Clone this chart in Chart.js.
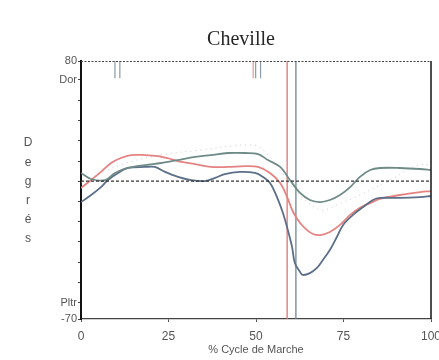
<!DOCTYPE html>
<html>
<head>
<meta charset="utf-8">
<script src="https://cdn.jsdelivr.net/npm/chart.js@4"></script>
<style>
  html, body { margin: 0; padding: 0; background: #fff; }
  canvas { display: block; }
</style>
</head>
<body>
<canvas id="c" width="439" height="360"></canvas>
<script>
// ---- data ----
const chartTitle = 'Cheville';
const xAxisTitle = '% Cycle de Marche';
const yAxisTitle = 'Degrés';

const xTickValues = [0, 25, 50, 75, 100];
const yTickValues = [80, 69, 57.2, 45.4, 33.6, 21.8, 10.2, -1.6, -13.4, -25.2, -37, -48.8, -60.6, -70];
const yTickLabels = ['80', 'Dor', '', '', '', '', '', '', '', '', '', '', 'Pltr', '-70'];

// upper grey-green curve
const pctUpper = [0, 2.9, 6.9, 9.7, 13.4, 18.3, 22.9, 27.7, 32.6, 37.1, 42, 46.9, 50.6, 53.4, 56.9, 59.7, 62.6, 65.4, 68.3, 71.1, 74, 76.9, 79.7, 82.6, 85.4, 91.1, 96.9, 100];
const degUpper = [14.9, 11.4, 10.8, 14.9, 17.8, 19.5, 20.7, 22.4, 24.2, 25.3, 26.5, 26.5, 25.9, 22.4, 18.4, 10.8, 3.3, -0.8, -2.0, -0.8, 2.1, 6.7, 12.6, 16.6, 17.8, 17.8, 17.2, 16.6];

// red curve
const pctRed = [0, 2.9, 5.7, 8.6, 11.4, 14.3, 18.3, 22, 25.7, 28.6, 32.6, 37.1, 42, 46.9, 50.6, 54, 56.9, 58.9, 60.6, 62.6, 64.6, 66.3, 68.3, 71.1, 74, 76.9, 79.7, 82.6, 85.4, 91.1, 96.9, 100];
const degRed = [6.2, 10.8, 15.5, 20.7, 23.6, 25.3, 25.3, 24.7, 23.0, 21.3, 20.1, 18.4, 18.4, 18.9, 18.4, 14.9, 9.1, 0.9, -7.8, -14.2, -18.3, -20.6, -21.2, -19.4, -15.3, -9.5, -5.4, -2.6, -0.2, 2.1, 3.8, 4.4];

// dark blue-grey curve
const pctLower = [0, 2.9, 5.7, 7.7, 10.6, 13.4, 18.3, 21.1, 24, 27.7, 31.4, 35.4, 38.3, 41.1, 45.4, 49.7, 52, 54, 56, 57.7, 59.1, 60.3, 61.1, 62.6, 63.4, 65.4, 67.4, 69.1, 71.1, 73.1, 74.9, 77.7, 80.6, 83.4, 85.4, 91.1, 96.9, 100];
const degLower = [-2.0, 2.1, 6.7, 10.8, 14.9, 17.8, 18.4, 18.4, 15.5, 12.6, 10.8, 10.2, 12.0, 14.3, 15.5, 14.9, 12.6, 9.1, 0.9, -8.4, -18.3, -28.1, -37.4, -42.7, -44.4, -43.3, -40.3, -35.7, -29.9, -22.3, -15.3, -9.5, -4.9, -0.8, 0.4, 0.4, 0.9, 1.5];

// faint dotted curve
const pctDotted = [0, 11.1, 22.6, 34, 49.1, 52.6, 56.9, 61.1, 68.3, 73.1, 79.7, 88.3, 96.3, 100];
const degDotted = [9.1, 19.5, 25.3, 28.2, 31.2, 27.1, 16.6, 5.0, -6.6, -3.7, 2.1, 10.8, 19.5, 19.5];

// reference lines
const baselineDeg = 10.2;
const redEventPct = 58.9;
const greyEventPct = 61.4;
const greyMarkPct = [9.7, 11.1, 49.9, 51.3];
const redMarkPct = [49.2];
const markTopDeg = 80;
const markBottomDeg = 70;

// ---- build datasets ----
const pts = (xs, ys) => xs.map((x, i) => ({ x: x, y: ys[i] }));
const curve = (xs, ys, color, width, dash) => ({
  data: pts(xs, ys), borderColor: color, borderWidth: width, borderDash: dash || [],
  pointRadius: 0, tension: 0.35, fill: false
});
const seg = (x0, y0, x1, y1, color, width, dash) => ({
  data: [{ x: x0, y: y0 }, { x: x1, y: y1 }], borderColor: color, borderWidth: width,
  borderDash: dash || [], pointRadius: 0, tension: 0, fill: false
});

const datasets = [
  curve(pctDotted, degDotted, 'rgba(160,160,160,0.55)', 1, [1, 4]),
  seg(0, baselineDeg, 100, baselineDeg, '#333', 1.3, [3, 2]),
  curve(pctUpper, degUpper, '#6f8b88', 1.8),
  curve(pctLower, degLower, '#5c6f88', 1.8),
  curve(pctRed, degRed, '#e58282', 1.8),
  seg(redEventPct, -70, redEventPct, 80, '#e07575', 1.3),
  seg(greyEventPct, -70, greyEventPct, 80, '#6f8494', 1.3)
];
greyMarkPct.forEach(p => datasets.push(seg(p, markTopDeg, p, markBottomDeg, '#8a9aa6', 1.2)));
redMarkPct.forEach(p => datasets.push(seg(p, markTopDeg, p, markBottomDeg, '#e39a9a', 1.2)));

// ---- decorations ----
const decor = {
  id: 'decor',
  afterDraw(chart) {
    const ctx = chart.ctx, a = chart.chartArea;
    ctx.save();
    // top dashed border
    ctx.strokeStyle = '#444'; ctx.lineWidth = 1.2; ctx.setLineDash([2, 1.5]);
    ctx.beginPath(); ctx.moveTo(a.left, a.top + 0.5); ctx.lineTo(a.right, a.top + 0.5); ctx.stroke();
    // right solid border
    ctx.setLineDash([]); ctx.strokeStyle = '#222'; ctx.lineWidth = 1.6;
    ctx.beginPath(); ctx.moveTo(a.right, a.top); ctx.lineTo(a.right, a.bottom); ctx.stroke();
    // title
    ctx.fillStyle = '#262626';
    ctx.font = '20px "Liberation Serif", "Times New Roman", serif';
    ctx.textAlign = 'center'; ctx.textBaseline = 'alphabetic';
    ctx.fillText(chartTitle, 241, 45);
    // vertical stacked y-axis title
    ctx.fillStyle = '#555';
    ctx.font = '12px "Liberation Sans", Arial, sans-serif';
    ctx.textBaseline = 'middle';
    const letters = Array.from(yAxisTitle);
    letters.forEach((ch, i) => ctx.fillText(ch, 28, 143 + i * 19.2));
    ctx.restore();
  }
};

new Chart(document.getElementById('c'), {
  type: 'line',
  data: { datasets: datasets },
  options: {
    responsive: false,
    animation: false,
    events: [],
    layout: { padding: { top: 61, right: 8, left: 0, bottom: 0 } },
    plugins: { legend: { display: false }, tooltip: { enabled: false }, title: { display: false } },
    scales: {
      x: {
        type: 'linear', min: 0, max: 100,
        afterFit: s => { s.height = 41; s.paddingLeft = 0; s.paddingRight = 0; },
        afterBuildTicks: s => { s.ticks = xTickValues.map(v => ({ value: v })); },
        grid: { display: true, drawOnChartArea: false, drawTicks: true, tickLength: 3, color: '#555' },
        border: { display: true, color: '#444', width: 1.3, dash: [2, 1.5] },
        ticks: {
          color: '#555', padding: 7, maxRotation: 0, autoSkip: false,
          font: { family: '"Liberation Sans", Arial, sans-serif', size: 12 }
        },
        title: {
          display: true, text: xAxisTitle, color: '#555', padding: { top: 0, bottom: 3 },
          font: { family: '"Liberation Sans", Arial, sans-serif', size: 11 }
        }
      },
      y: {
        type: 'linear', min: -70, max: 80,
        afterFit: s => { s.width = 81; s.paddingTop = 0; s.paddingBottom = 0; },
        afterBuildTicks: s => { s.ticks = yTickValues.map(v => ({ value: v })); },
        grid: { display: true, drawOnChartArea: false, drawTicks: true, tickLength: 3, color: '#444' },
        border: { display: true, color: '#111', width: 2 },
        ticks: {
          color: '#555', padding: 1, autoSkip: false,
          font: { family: '"Liberation Sans", Arial, sans-serif', size: 11 },
          callback: (v, i) => yTickLabels[i]
        }
      }
    }
  },
  plugins: [decor]
});
</script>
</body>
</html>
